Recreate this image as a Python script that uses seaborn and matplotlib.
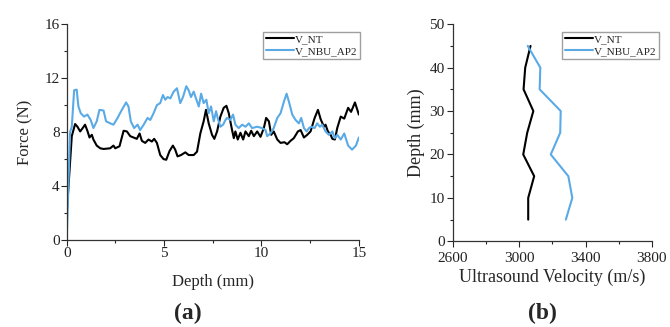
import numpy as np
import pandas as pd
import matplotlib
matplotlib.use("Agg")
import matplotlib.pyplot as plt
from matplotlib.ticker import MultipleLocator
import seaborn as sns

# ---------------- DATA ----------------
# (a) force vs depth
nt_x = [0, 0.26, 0.43, 0.55, 0.69, 0.82, 0.94, 1.06, 1.17, 1.29, 1.37, 1.54, 1.72, 1.89, 2.23,
        2.40, 2.49, 2.71, 2.92, 3.09, 3.26, 3.43, 3.60, 3.74, 3.86, 4.03, 4.20, 4.37, 4.49, 4.63,
        4.80, 4.97, 5.11, 5.28, 5.45, 5.57, 5.69, 5.87, 6.09, 6.26, 6.52, 6.69, 6.86, 7.03, 7.15,
        7.29, 7.46, 7.58, 7.72, 7.89, 8.06, 8.20, 8.32, 8.49, 8.58, 8.66, 8.78, 8.92, 9.06, 9.18,
        9.35, 9.47, 9.61, 9.78, 9.95, 10.12, 10.24, 10.38, 10.50, 10.63, 10.81, 10.98, 11.18, 11.32,
        11.49, 11.66, 11.87, 12.01, 12.18, 12.35, 12.52, 12.73, 12.90, 13.04, 13.21, 13.29, 13.41,
        13.55, 13.64, 13.77, 13.89, 14.07, 14.25, 14.45, 14.60, 14.80, 15.0]
nt_force = [2.0, 7.7, 8.6, 8.4, 8.05, 8.3, 8.55, 8.1, 7.6, 7.8, 7.45, 7.0, 6.8, 6.75, 6.8,
            7.0, 6.8, 6.95, 8.1, 8.05, 7.7, 7.6, 7.5, 7.9, 7.35, 7.2, 7.45, 7.3, 7.5, 7.2,
            6.3, 6.0, 5.95, 6.6, 7.0, 6.7, 6.2, 6.3, 6.5, 6.3, 6.3, 6.55, 7.9, 8.8, 9.65,
            8.65, 7.8, 7.5, 8.05, 9.15, 9.8, 9.95, 9.4, 8.15, 7.55, 8.05, 7.45, 7.95, 7.45, 8.05,
            7.7, 8.1, 7.7, 8.05, 7.65, 8.3, 9.05, 8.8, 7.8, 8.05, 7.45, 7.2, 7.25, 7.1,
            7.35, 7.55, 8.05, 8.15, 7.6, 7.8, 8.05, 9.05, 9.65, 8.95, 8.4, 8.55, 8.05,
            7.8, 7.5, 7.45, 8.3, 9.15, 9.0, 9.8, 9.5, 10.2, 9.3]

nbu_x = [0, 0.17, 0.26, 0.38, 0.51, 0.60, 0.72, 0.89, 1.06, 1.23, 1.37, 1.54, 1.68, 1.89, 2.02,
         2.23, 2.40, 2.61, 2.83, 3.05, 3.17, 3.29, 3.46, 3.64, 3.77, 3.95, 4.15, 4.29, 4.46, 4.63,
         4.80, 4.94, 5.06, 5.18, 5.32, 5.49, 5.66, 5.83, 5.97, 6.14, 6.26, 6.38, 6.52, 6.66, 6.78,
         6.90, 7.03, 7.17, 7.29, 7.41, 7.55, 7.67, 7.75, 7.89, 8.03, 8.15, 8.23, 8.40, 8.54, 8.66,
         8.83, 9.01, 9.18, 9.35, 9.52, 9.78, 10.03, 10.21, 10.29, 10.46, 10.63, 10.81, 10.98, 11.15,
         11.29, 11.41, 11.58, 11.75, 11.92, 12.04, 12.18, 12.32, 12.44, 12.56, 12.73, 12.86, 13.00,
         13.12, 13.29, 13.46, 13.64, 13.76, 13.89, 14.07, 14.25, 14.45, 14.65, 14.85, 15.0]
nbu_force = [0, 8.0, 8.4, 11.1, 11.15, 9.9, 9.4, 9.15, 9.3, 8.9, 8.3, 8.8, 9.65, 9.6, 8.8,
             8.65, 8.55, 9.05, 9.65, 10.2, 9.9, 8.8, 8.3, 8.55, 8.15, 8.55, 9.05, 8.9, 9.4, 10.0,
             10.15, 10.75, 10.4, 10.6, 10.5, 11.0, 11.25, 10.15, 10.6, 11.4, 11.1, 10.6, 11.0, 10.4, 9.9,
             10.85, 10.15, 10.4, 9.4, 9.9, 8.8, 9.55, 9.05, 8.4, 8.55, 8.9, 9.05, 8.9, 9.3, 8.55,
             8.3, 8.55, 8.4, 8.65, 8.3, 8.4, 8.3, 8.15, 7.7, 7.9, 8.3, 9.05, 9.4, 10.25,
             10.85, 10.25, 9.3, 8.9, 8.65, 9.05, 8.3, 8.05, 8.3, 8.4, 8.3, 8.65, 8.4,
             8.55, 8.05, 7.8, 8.05, 7.55, 7.8, 7.45, 7.9, 7.0, 6.7, 7.0, 7.6]

# (b) ultrasound velocity vs depth
depth_b = [5, 10, 15, 20, 25, 30, 35, 40, 45]
nt_vel = [3054, 3054, 3090, 3024, 3048, 3085, 3026, 3036, 3068]
nbu_vel = [3281, 3320, 3296, 3190, 3247, 3250, 3123, 3127, 3051]
vel_ticks = [2600, 3000, 3400, 3800]

labels = ["V_NT", "V_NBU_AP2"]
colors = ["black", "#5aaae6"]

# ---------------- PLOT ----------------
sns.set_style("ticks")
plt.rcParams['font.family'] = ['Liberation Serif', 'DejaVu Serif']
plt.rcParams['axes.edgecolor'] = '#333333'
plt.rcParams['axes.linewidth'] = 0.9

fig = plt.figure(figsize=(6.7, 3.27), dpi=100)
ax1 = fig.add_axes([0.0996, 0.266, 0.436, 0.660])
ax2 = fig.add_axes([0.676, 0.262, 0.297, 0.664])

df_a = pd.concat([
    pd.DataFrame({"Depth": nt_x, "Force": nt_force, "Series": labels[0]}),
    pd.DataFrame({"Depth": nbu_x, "Force": nbu_force, "Series": labels[1]}),
])
sns.lineplot(data=df_a, x="Depth", y="Force", hue="Series", palette=colors,
             estimator=None, sort=False, linewidth=1.5, ax=ax1)

df_b = pd.concat([
    pd.DataFrame({"Velocity": nt_vel, "Depth": depth_b, "Series": labels[0]}),
    pd.DataFrame({"Velocity": nbu_vel, "Depth": depth_b, "Series": labels[1]}),
])
sns.lineplot(data=df_b, x="Velocity", y="Depth", hue="Series", palette=colors,
             estimator=None, sort=False, linewidth=1.5, ax=ax2)

# axes (a)
ax1.set_xlim(0, 15)
ax1.set_ylim(0, 16)
ax1.xaxis.set_major_locator(MultipleLocator(5))
ax1.xaxis.set_minor_locator(MultipleLocator(2.5))
ax1.yaxis.set_major_locator(MultipleLocator(4))
ax1.yaxis.set_minor_locator(MultipleLocator(2))
ax1.set_xlabel("Depth (mm)", fontsize=12, labelpad=10)
ax1.set_ylabel("Force (N)", fontsize=12, labelpad=8)

# axes (b)
ax2.set_xlim(2600, 3800)
ax2.set_ylim(0, 50)
ax2.set_xticks(vel_ticks)
ax2.set_xticks([2800, 3200, 3600], minor=True)
ax2.yaxis.set_major_locator(MultipleLocator(10))
ax2.yaxis.set_minor_locator(MultipleLocator(5))
ax2.set_xlabel("Ultrasound Velocity (m/s)", fontsize=13, labelpad=3)
ax2.set_ylabel("Depth (mm)", fontsize=13, labelpad=3)

for ax, fs in [(ax1, 11), (ax2, 11)]:
    sns.despine(ax=ax)
    ax.tick_params(which='major', direction='out', length=4, width=0.8, labelsize=fs, pad=1)
    ax.tick_params(which='minor', direction='out', length=2.5, width=0.8)
    for t in ax.get_xticklabels() + ax.get_yticklabels():
        t.set_color('#222222')
ax2.tick_params(axis='x', which='major', pad=3.5)
ax2.tick_params(axis='y', which='major', pad=2)

leg_kw = dict(loc='upper left', fontsize=8, frameon=True, fancybox=False, edgecolor='#888888',
              handlelength=2.5, handletextpad=0.1, labelspacing=0.2, borderpad=0.25,
              borderaxespad=0)
ax1.legend(bbox_to_anchor=(0.672, 0.965), **leg_kw)
ax2.legend(bbox_to_anchor=(0.548, 0.966), **leg_kw)

fig.text(188 / 670, 1 - 313 / 327, "(a)", fontsize=17, fontweight='bold', ha='center', va='center')
fig.text(542 / 670, 1 - 313 / 327, "(b)", fontsize=17, fontweight='bold', ha='center', va='center')

fig.savefig("out.png", dpi=100)
